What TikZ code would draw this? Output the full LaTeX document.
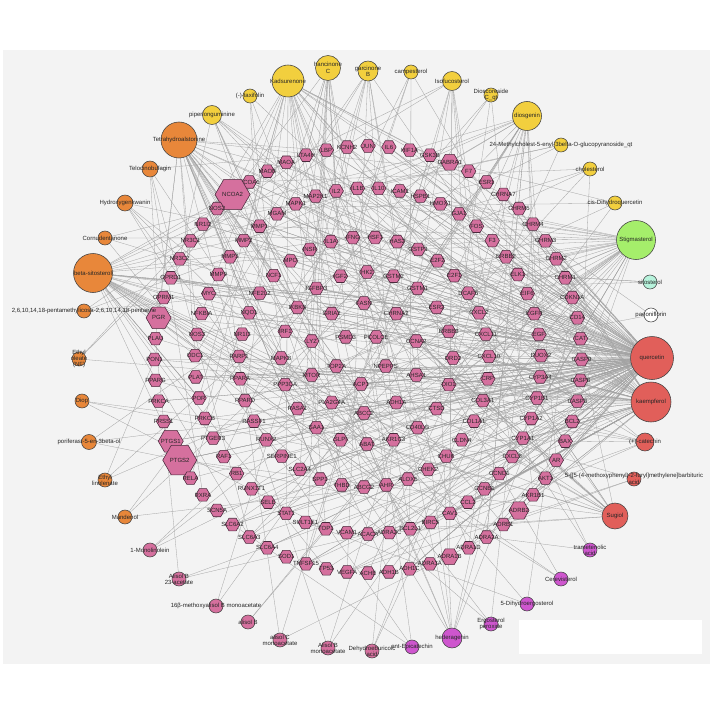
\documentclass[tikz,border=0pt]{standalone}
\usepackage{fontspec}
\setmainfont{Liberation Sans}
\usetikzlibrary{shapes.geometric}
\pgfdeclarelayer{bg}
\pgfdeclarelayer{edgelayer}
\pgfsetlayers{bg,edgelayer,main}
\definecolor{panel}{HTML}{F3F3F3}
\definecolor{cyel}{HTML}{F2CF3E}
\definecolor{corg}{HTML}{E8873A}
\definecolor{cred}{HTML}{E15F5A}
\definecolor{cmag}{HTML}{CE56CE}
\definecolor{cpink}{HTML}{D5709E}
\definecolor{cgrn}{HTML}{A5EE6B}
\definecolor{caqua}{HTML}{B7F3DC}
\definecolor{outl}{HTML}{4A2A3C}
\tikzset{
  hexn/.style={regular polygon, regular polygon sides=6, minimum size=14.5, inner sep=0pt, fill=cpink, draw=outl, line width=0.55pt},
  hl/.style={font=\fontsize{6}{6.6}\selectfont, text=black!85, inner sep=0pt},
  cmp/.style={circle, draw=black!75, line width=0.55pt, inner sep=0pt},
  cl/.style={font=\fontsize{6}{6.3}\selectfont, text=black!85, inner sep=0pt, align=center},
  edge/.style={draw=black!36, line width=0.3pt},
  szo5/.style={minimum size=18}, szo9/.style={minimum size=20},
  szo29/.style={minimum size=18}, szo40/.style={minimum size=35},
  szo47/.style={minimum size=25}, szo53/.style={minimum size=25},
  szo54/.style={minimum size=34}
}
\newcommand\cmpd[6]{\node[cmp, fill=#5, minimum size=#4] (#1) at (#2,#3) {};
  \node[cl] (#1l) at (#1) {#6};}
\newcommand\mkedges[2]{\foreach \i in {1,...,#2}{\pgfmathrandominteger{\rr}{1}{185}\draw[edge] (#1) -- (t\rr);}}
\begin{document}
\begin{tikzpicture}[x=1pt,y=-1pt]
\useasboundingbox (0,0) rectangle (714,714);
\begin{pgfonlayer}{bg}
\fill[white] (0,0) rectangle (714,714);
\fill[panel] (3,50) rectangle (710,664);
\fill[white] (519,620) rectangle (702,654);
\end{pgfonlayer}

% outer ring
\foreach \nm [count=\k] in {ACHE,ADH1B,ADH1C,ADRA1A,ADRA1B,ADRA1D,ADRA2A,ADRB1,ADRB2,AKR1B1,AKT1,AR,BAX,BCL2,CASP3,CASP8,CASP9,CAT,CD14,CDKN1A,CHRM1,CHRM2,CHRM3,CHRM4,CHRM5,CHRNA7,ESR1,F7,GABRA1,GSK3B,HIF1A,IL6,JUN,KCNH2,LBP,LTA4H,MAOA,MAOB,NCOA1,NCOA2,NOS2,NR1I2,NR3C1,NR3C2,OPRD1,OPRM1,PGR,PLAU,PON1,PPARG,PRKCA,PRSS1,PTGS1,PTGS2,RELA,RXRA,SCN5A,SLC6A2,SLC6A3,SLC6A4,SOD1,TNFSF15,TP53,VEGFA}{
  \pgfmathsetmacro\ang{90-(360/64)*(\k-1)}
  \node[hexn, szo\k/.try, alias=t\k, label={[hl]center:\nm}] (o\k) at ([shift={(368,359.5)}]\ang:213.5) {};
}
% ring 2
\foreach \nm [count=\k] in {ACACA,ADRA2C,BCL2L1,BIRC5,CAV1,CCL2,CCNB1,CCND1,CXCL8,CYP1A1,CYP1A2,CYP1B1,CYP3A4,DUOX2,EGF,EGFR,EIF6,ELK1,ERBB2,F3,FOS,GJA1,HMOX1,HSPB1,ICAM1,IL10,IL1B,IL2,MAP2K1,MAPK1,MGAM,MMP1,MMP2,MMP3,MMP9,MYC,NFKBIA,NOS3,ODC1,PLAT,POR,PRKCB,PTGER3,RAF1,RB1,RUNX1T1,SELE,STAT1,SULT1E1,TOP1,VCAM1}{
  \pgfmathsetmacro\ang{90-(360/51)*(\k-1)}
  \pgfmathtruncatemacro\g{\k+64}
  \node[hexn, alias=t\g, label={[hl]center:\nm}] (b\k) at ([shift={(368,361)}]\ang:173) {};
}
% ring 3
\foreach \nm [count=\k] in {ABCG2,AHR,ALOX5,CHEK2,CHUK,CLDN4,COL1A1,COL3A1,CRP,CXCL10,CXCL11,CXCL2,DCAF5,E2F1,E2F2,GSTP1,HAS2,HSF1,IFNG,IL1A,INSR,MPO,NCF1,NFE2L2,NQO1,NR1I3,PARP1,PPARA,PPARD,RASSF1,RUNX2,SERPINE1,SLC2A4,SPP1,THBD}{
  \pgfmathsetmacro\ang{90-(360/35)*(\k-1)}
  \pgfmathtruncatemacro\g{\k+115}
  \node[hexn, alias=t\g, label={[hl]center:\nm}] (c\k) at ([shift={(364,362)}]\ang:125) {};
}
% ring 4
\foreach \nm [count=\k] in {ABAT,AKR1C3,CD40LG,CTSD,DIO1,DRD2,ERBB3,ESR2,GSTM1,GSTM2,HK2,IGF2,IGFBP3,IKBKB,IRF1,MAPK8,PPP3CA,RASA1,SAA1,SLPI}{
  \pgfmathsetmacro\ang{90-18*(\k-1)}
  \pgfmathtruncatemacro\g{\k+150}
  \node[hexn, alias=t\g, label={[hl]center:\nm}] (d\k) at ([shift={(367,358)}]\ang:86) {};
}
% ring 5
\foreach \nm [count=\k] in {ABCC2,ADH1A,AHSA1,CCNA2,CHRNA2,FASN,GRIA2,LYZ,MTOR,PLA2G4A}{
  \pgfmathsetmacro\ang{90-36*(\k-1)}
  \pgfmathtruncatemacro\g{\k+170}
  \node[hexn, alias=t\g, label={[hl]center:\nm}] (e\k) at ([shift={(364,358)}]\ang:55) {};
}
% ring 6
\foreach \nm [count=\k] in {ACP1,NPEPPS,PCOLCE,PSMD3,TOP2A}{
  \pgfmathsetmacro\ang{90-72*(\k-1)}
  \pgfmathtruncatemacro\g{\k+180}
  \node[hexn, alias=t\g, label={[hl]center:\nm}] (f\k) at ([shift={(361,358)}]\ang:26) {};
}

% compounds
\cmpd{taxi}{250}{96}{14}{cyel}{(-)-taxifolin}
\cmpd{piper}{212}{115}{19}{cyel}{piperlonguminine}
\cmpd{kads}{288}{81}{32}{cyel}{Kadsurenone}
\cmpd{hanc}{328}{68}{25}{cyel}{hancinone\\C}
\cmpd{garc}{368}{71}{20}{cyel}{garcinone\\B}
\cmpd{camp}{411}{72}{14}{cyel}{campesterol}
\cmpd{isof}{452}{81}{19}{cyel}{Isofucosterol}
\cmpd{diosc}{491}{95}{14}{cyel}{Dioscoreside\\C\_qt}
\cmpd{diosg}{527}{116}{29}{cyel}{diosgenin}
\cmpd{meth}{561}{145}{14}{cyel}{24-Methylcholest-5-enyl-3belta-O-glucopyranoside\_qt}
\cmpd{chol}{590}{169}{14}{cyel}{cholesterol}
\cmpd{cisd}{615}{203}{14}{cyel}{cis-Dihydroquercetin}
\cmpd{stig}{636}{240}{39}{cgrn}{Stigmasterol}
\cmpd{sito}{650}{282}{14}{caqua}{sitosterol}
\cmpd{paeo}{651}{315}{14}{white}{paeoniflorin}
\cmpd{quer}{652}{358}{43}{cred}{quercetin}
\cmpd{kaem}{651}{402}{40}{cred}{kaempferol}
\cmpd{cate}{645}{442}{18}{cred}{(+)-catechin}
\cmpd{barb}{634}{479}{14}{cred}{5-[[5-(4-methoxyphenyl)-2-furyl]methylene]barbituric\\acid}
\cmpd{sugi}{615}{516}{26}{cred}{Sugiol}
\cmpd{tram}{590}{550}{14}{cmag}{trametenolic\\acid}
\cmpd{cere}{561}{579}{14}{cmag}{Cerevisterol}
\cmpd{dihy}{527}{604}{14}{cmag}{5-Dihydroergosterol}
\cmpd{ergo}{491}{624}{14}{cmag}{Ergosterol\\peroxide}
\cmpd{hede}{452}{638}{20}{cmag}{hederagenin}
\cmpd{epic}{412}{647}{14}{cmag}{ent-Epicatechin}
\cmpd{dehy}{372}{651}{14}{cpink}{Dehydroeburicoic\\acid}
\cmpd{alBm}{328}{648}{14}{cpink}{Alisol B\\monoacetate}
\cmpd{alCm}{280}{640}{14}{cpink}{alisol C\\monoacetate}
\cmpd{alB}{248}{622}{14}{cpink}{alisol B}
\cmpd{meox}{216}{606}{14}{cpink}{16β-methoxyalisol B monoacetate}
\cmpd{alBt}{179}{579}{14}{cpink}{Alisol B\\23-acetate}
\cmpd{mono}{150}{550}{14}{cpink}{1-Monolinolein}
\cmpd{mand}{125}{517}{14}{corg}{Mandenol}
\cmpd{elin}{105}{480}{14}{corg}{Ethyl\\linolenate}
\cmpd{pori}{89}{442}{15}{corg}{poriferast-5-en-3beta-ol}
\cmpd{diop}{82}{401}{14}{corg}{Diop}
\cmpd{eole}{79}{359}{14}{corg}{Ethyl\\oleate\\(NF)}
\cmpd{pent}{84}{311}{14}{corg}{2,6,10,14,18-pentamethylicosa-2,6,10,14,18-pentaene}
\cmpd{bsit}{93}{273}{39}{corg}{beta-sitosterol}
\cmpd{corn}{105}{238}{14}{corg}{Cornudentanone}
\cmpd{hydr}{125}{203}{16}{corg}{Hydroxygenkwanin}
\cmpd{telo}{150}{169}{16}{corg}{Telocinobufagin}
\cmpd{tetr}{179}{140}{36}{corg}{Tetrahydroalstonine}

% connectors
\pgfmathsetseed{20240}
\begin{pgfonlayer}{edgelayer}
\mkedges{taxi}{4}
\mkedges{piper}{9}
\mkedges{kads}{25}
\mkedges{hanc}{14}
\mkedges{garc}{10}
\mkedges{camp}{5}
\mkedges{isof}{10}
\mkedges{diosc}{4}
\mkedges{diosg}{20}
\mkedges{meth}{4}
\mkedges{chol}{5}
\mkedges{cisd}{4}
\mkedges{stig}{32}
\mkedges{sito}{3}
\mkedges{paeo}{2}
\mkedges{quer}{150}
\mkedges{kaem}{60}
\mkedges{cate}{8}
\mkedges{barb}{3}
\mkedges{sugi}{18}
\mkedges{tram}{3}
\mkedges{cere}{3}
\mkedges{dihy}{3}
\mkedges{ergo}{3}
\mkedges{hede}{9}
\mkedges{epic}{3}
\mkedges{dehy}{3}
\mkedges{alBm}{3}
\mkedges{alCm}{3}
\mkedges{alB}{2}
\mkedges{meox}{2}
\mkedges{alBt}{3}
\mkedges{mono}{3}
\mkedges{mand}{3}
\mkedges{elin}{3}
\mkedges{pori}{3}
\mkedges{diop}{3}
\mkedges{eole}{3}
\mkedges{pent}{3}
\mkedges{bsit}{35}
\mkedges{corn}{4}
\mkedges{hydr}{5}
\mkedges{telo}{5}
\mkedges{tetr}{30}
\end{pgfonlayer}
\end{tikzpicture}
\end{document}
